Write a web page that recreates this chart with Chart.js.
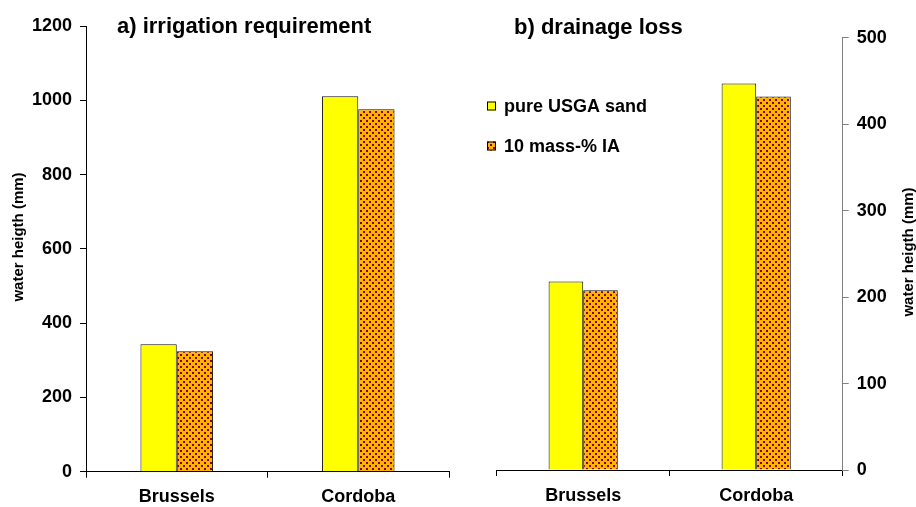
<!DOCTYPE html>
<html>
<head>
<meta charset="utf-8">
<script src="https://cdn.jsdelivr.net/npm/chart.js@4.4.0/dist/chart.umd.min.js"></script>
<style>
  body { margin: 0; background: #fff; }
  #wrap { position: relative; width: 916px; height: 507px; }
  #leftBox { position: absolute; left: 0; top: 0; width: 460px; height: 507px; }
  #rightBox { position: absolute; left: 460px; top: 0; width: 456px; height: 507px; }
</style>
</head>
<body>
<div id="wrap">
  <div id="leftBox"><canvas id="irrigChart"></canvas></div>
  <div id="rightBox"><canvas id="drainChart"></canvas></div>
</div>
<script>
// data
const cities = ['Brussels', 'Cordoba'];
const seriesNames = ['pure USGA sand', '10 mass-% IA'];
const irrigationSand = [343, 1011];
const irrigationIA = [324, 976];
const drainageSand = [218, 447];
const drainageIA = [208, 432];
const irrigationTicks = [0, 200, 400, 600, 800, 1000, 1200];
const drainageTicks = [0, 100, 200, 300, 400, 500];

const FONT = "'Liberation Sans', Arial, sans-serif";
const yellow = '#ffff00';

// orange with dark red dots, like the excel fill
function makeDots() {
  const c = document.createElement('canvas');
  c.width = 6; c.height = 6;
  const g = c.getContext('2d');
  g.fillStyle = '#ffb400';
  g.fillRect(0, 0, 6, 6);
  g.fillStyle = '#8b0000';
  g.fillRect(0, 0, 2, 2);
  g.fillRect(3, 3, 2, 2);
  return g.createPattern(c, 'repeat');
}
const dots = makeDots();

function makeData(sand, ia) {
  return {
    labels: cities,
    datasets: [
      { label: seriesNames[0], data: sand, backgroundColor: yellow, borderColor: '#111', borderWidth: 1,
        barPercentage: 1, categoryPercentage: 0.4 },
      { label: seriesNames[1], data: ia, backgroundColor: dots, borderColor: '#111', borderWidth: 1,
        barPercentage: 1, categoryPercentage: 0.4 }
    ]
  };
}

// titles + rotated axis label drawn on the canvas
const textPlugin = {
  id: 'panelText',
  afterDraw(chart, args, opts) {
    const ctx = chart.ctx;
    ctx.save();
    ctx.fillStyle = '#000';
    ctx.font = 'bold 22px ' + FONT;
    ctx.textBaseline = 'alphabetic';
    ctx.textAlign = 'left';
    ctx.fillText(opts.title, opts.titleX, opts.titleY);

    ctx.font = 'bold 15px ' + FONT;
    ctx.textAlign = 'center';
    ctx.textBaseline = 'middle';
    ctx.translate(opts.axisX, opts.axisY);
    ctx.rotate(-Math.PI / 2);
    ctx.fillText('water heigth (mm)', 0, 0);
    ctx.restore();

    if (opts.legend) {
      ctx.save();
      ctx.font = 'bold 18px ' + FONT;
      ctx.textBaseline = 'middle';
      ctx.textAlign = 'left';
      chart.data.datasets.forEach((ds, i) => {
        const y = opts.legend.y + i * 40;
        ctx.fillStyle = ds.backgroundColor;
        ctx.fillRect(opts.legend.x, y - 4.5, 9, 9);
        ctx.strokeStyle = '#000';
        ctx.lineWidth = 1;
        ctx.strokeRect(opts.legend.x + 0.5, y - 4, 8, 8);
        ctx.fillStyle = '#000';
        ctx.fillText(ds.label, opts.legend.x + 17, y + 1);
      });
      ctx.restore();
    }
  }
};

function xAxis(h) {
  return {
    border: { color: '#000', width: 1 },
    grid: { display: true, drawOnChartArea: false, color: '#000', tickLength: 6, offset: true },
    ticks: { color: '#000', font: { family: FONT, size: 18, weight: 'bold' }, padding: 9 },
    afterFit: (s) => { s.height = h; }
  };
}

function yAxis(pos, max, step, tickList, w, lineColor) {
  return {
    position: pos,
    min: 0, max: max,
    border: { color: lineColor, width: 1 },
    grid: { drawOnChartArea: false, color: lineColor, tickLength: 6 },
    ticks: {
      stepSize: step, color: '#000', padding: 8,
      font: { family: FONT, size: 18, weight: 'bold' },
      callback: (v) => tickList.includes(v) ? v : ''
    },
    afterFit: (s) => { s.width = w; }
  };
}

Chart.defaults.animation = false;

new Chart(document.getElementById('irrigChart'), {
  type: 'bar',
  data: makeData(irrigationSand, irrigationIA),
  options: {
    responsive: true,
    maintainAspectRatio: false,
    layout: { padding: { top: 26, right: 11, bottom: 0, left: 0 } },
    plugins: {
      legend: { display: false },
      tooltip: { enabled: false },
      panelText: { title: 'a) irrigation requirement', titleX: 117, titleY: 33, axisX: 19, axisY: 237 }
    },
    scales: {
      x: xAxis(35.3),
      y: yAxis('left', 1200, 200, irrigationTicks, 86, '#000')
    }
  },
  plugins: [textPlugin]
});

new Chart(document.getElementById('drainChart'), {
  type: 'bar',
  data: makeData(drainageSand, drainageIA),
  options: {
    responsive: true,
    maintainAspectRatio: false,
    layout: { padding: { top: 37.7, right: 0, bottom: 0, left: 36.7 } },
    plugins: {
      legend: { display: false },
      tooltip: { enabled: false },
      panelText: {
        title: 'b) drainage loss', titleX: 54, titleY: 34,
        axisX: 449, axisY: 252,
        legend: { x: 27, y: 106 }
      }
    },
    scales: {
      x: xAxis(37),
      y: yAxis('right', 500, 100, drainageTicks, 73.3, '#808080')
    }
  },
  plugins: [textPlugin]
});
</script>
</body>
</html>
